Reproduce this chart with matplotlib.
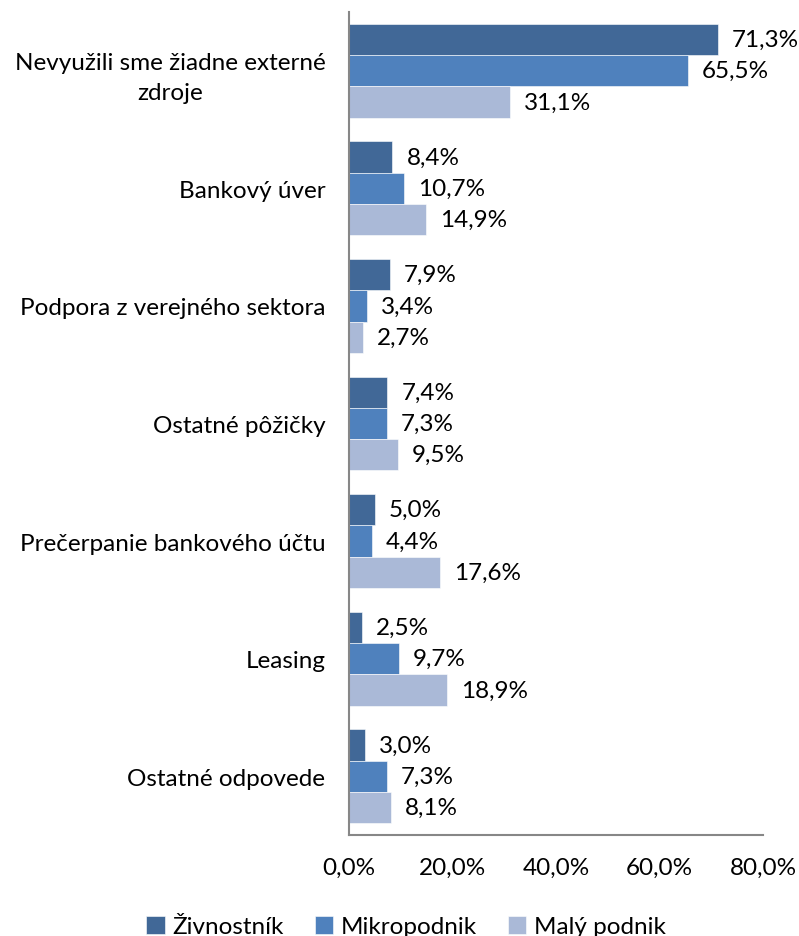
import matplotlib.pyplot as plt
import numpy as np

categories = [
    "Nevyužili sme žiadne externé\nzdroje",
    "Bankový úver",
    "Podpora z verejného sektora",
    "Ostatné pôžičky",
    "Prečerpanie bankového účtu",
    "Leasing",
    "Ostatné odpovede",
]
series_names = ["Živnostník", "Mikropodnik", "Malý podnik"]
zivnostnik = [71.3, 8.4, 7.9, 7.4, 5.0, 2.5, 3.0]
mikropodnik = [65.5, 10.7, 3.4, 7.3, 4.4, 9.7, 7.3]
maly_podnik = [31.1, 14.9, 2.7, 9.5, 17.6, 18.9, 8.1]
x_ticks = [0, 20, 40, 60, 80]

colors = ["#416897", "#4F81BD", "#AAB9D7"]
fs = 17.5

plt.rcParams["font.family"] = ["Lato", "DejaVu Sans"]

fig = plt.figure(figsize=(7.99, 9.37), dpi=100)
ax = fig.add_axes([0.4368, 0.1078, 0.5181, 0.8783])

n = len(categories)
y = np.arange(n)
h = 0.266
for i, (vals, name) in enumerate(zip([zivnostnik, mikropodnik, maly_podnik], series_names)):
    pos = y + (i - 1) * h
    ax.barh(pos, vals, height=h, color=colors[i], edgecolor="white", linewidth=0.4, label=name)
    for p, v in zip(pos, vals):
        ax.text(v + 2.7, p, f"{v:.1f}%".replace(".", ","), va="center", ha="left", fontsize=fs)

ax.set_ylim(n - 0.5, -0.5)
ax.set_xlim(0, 80)
ax.set_yticks(y)
ax.set_yticklabels(categories, fontsize=fs, ha="right", multialignment="center",
                   linespacing=1.55)
ax.tick_params(axis="y", length=0, pad=17)
ax.set_xticks(x_ticks)
ax.set_xticklabels([f"{t:.1f}%".replace(".", ",") for t in x_ticks], fontsize=fs)
ax.tick_params(axis="x", length=0, pad=16)

for s in ["top", "right"]:
    ax.spines[s].set_visible(False)
for s in ["left", "bottom"]:
    ax.spines[s].set_color("#878787")
    ax.spines[s].set_linewidth(1.5)

fig.legend(loc="center", bbox_to_anchor=(0.508, 0.010), ncol=3, frameon=False,
           fontsize=fs, handlelength=0.75, handleheight=0.75, handletextpad=0.3,
           columnspacing=1.3)

fig.savefig("out.png", dpi=100)
